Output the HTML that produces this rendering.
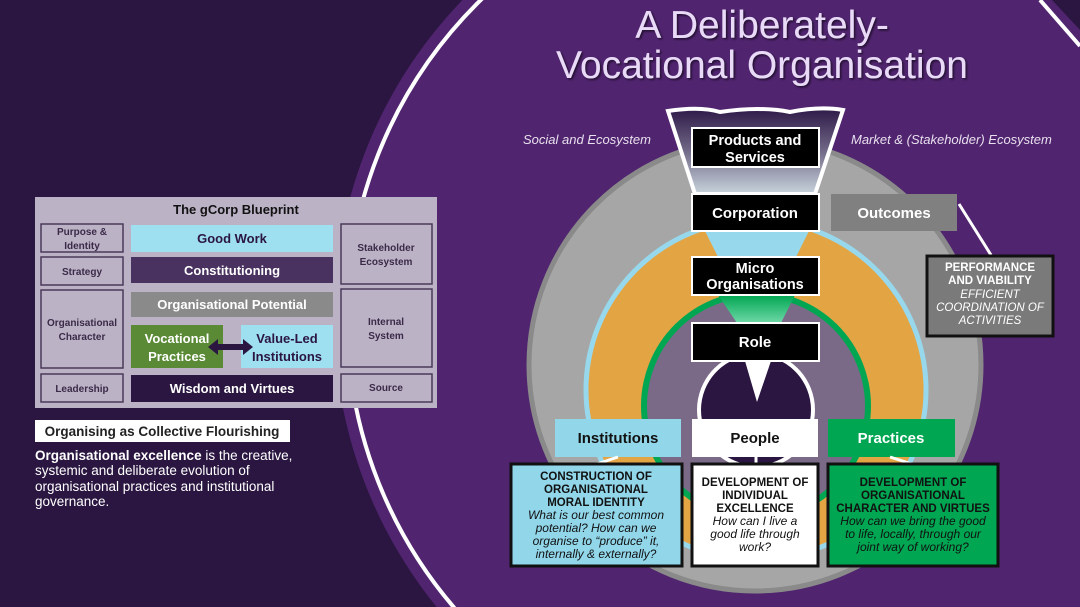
<!DOCTYPE html>
<html><head><meta charset="utf-8"><style>
html,body{margin:0;padding:0;background:#2a1640;width:1080px;height:607px;overflow:hidden;}
svg{display:block;font-family:"Liberation Sans",sans-serif;}
</style></head><body>
<svg width="1080" height="607" viewBox="0 0 1080 607" xmlns="http://www.w3.org/2000/svg">
<defs>
<linearGradient id="fg" x1="0" y1="0" x2="0" y2="1">
<stop offset="0" stop-color="#2e1a48"/><stop offset="0.45" stop-color="#6a6080"/><stop offset="1" stop-color="#c8d4dc"/>
</linearGradient>
<linearGradient id="gg" x1="0" y1="0" x2="0" y2="1">
<stop offset="0" stop-color="#00a651"/><stop offset="1" stop-color="#6fd8a8"/>
</linearGradient>
<filter id="sh"><feDropShadow dx="1.5" dy="1.5" stdDeviation="1" flood-color="#000" flood-opacity="0.6"/></filter>
</defs>
<rect width="1080" height="607" fill="#2a1640"/>
<circle cx="792" cy="318" r="458" fill="#50246f"/>
<circle cx="792" cy="318" r="445" fill="none" stroke="#fff" stroke-width="4"/>
<polygon points="1052,0 1080,0 1080,30" fill="#2a1640"/>
<line x1="1040" y1="0" x2="1080" y2="46" stroke="#fff" stroke-width="4"/>

<!-- title -->
<g fill="#e9dbf7" font-size="39" text-anchor="middle" filter="url(#sh)">
<text x="762" y="38">A Deliberately-</text>
<text x="762" y="78">Vocational Organisation</text>
</g>
<g fill="#e8e0ee" font-size="13" font-style="italic">
<text x="523" y="144">Social and  Ecosystem</text>
<text x="851" y="144">Market &amp; (Stakeholder) Ecosystem</text>
</g>

<!-- circles -->
<circle cx="755" cy="365" r="226" fill="#a6a6a6" stroke="#8a8a8a" stroke-width="5"/>
<circle cx="756" cy="390" r="170" fill="#e3a444" stroke="#97d8ec" stroke-width="5"/>
<circle cx="756" cy="406" r="112" fill="#7a6a88" stroke="#00a651" stroke-width="6"/>
<circle cx="756" cy="410" r="57" fill="#2a1640" stroke="#fff" stroke-width="4"/>

<!-- funnel -->
<path d="M668,111 Q700,106 720,112 Q760,106 790,112 Q820,106 843,110 L815,194 L695,194 Z" fill="url(#fg)" stroke="#fff" stroke-width="4"/>
<polygon points="705,231 809,231 796,257 718,257" fill="#97d8ec"/>
<polygon points="718,295 795,295 781,323 737,323" fill="url(#gg)"/>
<polygon points="745,361 771,361 757,402" fill="#fff"/>

<!-- center boxes -->
<g stroke="#fff" stroke-width="2" fill="#000">
<rect x="692" y="128" width="127" height="39"/>
<rect x="692" y="194" width="127" height="37"/>
<rect x="692" y="257" width="127" height="38"/>
<rect x="692" y="323" width="127" height="38"/>
</g>
<g fill="#fff" font-weight="bold" text-anchor="middle" font-size="14.5">
<text x="755" y="145">Products and</text>
<text x="755" y="162">Services</text>
<text x="755" y="218" font-size="15">Corporation</text>
<text x="755" y="273">Micro</text>
<text x="755" y="289">Organisations</text>
<text x="755" y="347" font-size="15">Role</text>
</g>

<!-- outcomes -->
<rect x="831" y="194" width="126" height="37" fill="#808080"/>
<text x="894" y="218" fill="#fff" font-weight="bold" font-size="15" text-anchor="middle">Outcomes</text>
<line x1="959" y1="204" x2="991" y2="255" stroke="#fff" stroke-width="3"/>
<rect x="927" y="256" width="126" height="80" fill="#7a7a7a" stroke="#111" stroke-width="3"/>
<g fill="#fff" font-size="11.5" text-anchor="middle">
<text x="990" y="271" font-weight="bold">PERFORMANCE</text>
<text x="990" y="284" font-weight="bold">AND VIABILITY</text>
<text x="990" y="298" font-style="italic">EFFICIENT</text>
<text x="990" y="311" font-style="italic">COORDINATION OF</text>
<text x="990" y="324" font-style="italic">ACTIVITIES</text>
</g>

<!-- mid row -->
<rect x="555" y="419" width="126" height="38" fill="#92d6ea"/>
<rect x="692" y="419" width="126" height="38" fill="#fff"/>
<rect x="828" y="419" width="127" height="38" fill="#00a651"/>
<g font-weight="bold" font-size="15" text-anchor="middle">
<text x="618" y="443" fill="#111">Institutions</text>
<text x="755" y="443" fill="#111">People</text>
<text x="891" y="443" fill="#fff">Practices</text>
</g>
<g stroke="#fff" stroke-width="3">
<line x1="618" y1="457" x2="597" y2="464"/>
<line x1="756" y1="457" x2="756" y2="464"/>
<line x1="890" y1="457" x2="912" y2="464"/>
</g>

<!-- bottom boxes -->
<rect x="511" y="464" width="171" height="102" fill="#92d6ea" stroke="#111" stroke-width="3"/>
<rect x="692" y="464" width="126" height="102" fill="#fff" stroke="#111" stroke-width="3"/>
<rect x="828" y="464" width="170" height="102" fill="#00a651" stroke="#111" stroke-width="3"/>
<g fill="#111" font-size="11.5" text-anchor="middle">
<g font-weight="bold">
<text x="596" y="480">CONSTRUCTION OF</text>
<text x="596" y="493">ORGANISATIONAL</text>
<text x="596" y="506">MORAL IDENTITY</text>
<text x="755" y="486">DEVELOPMENT OF</text>
<text x="755" y="499">INDIVIDUAL</text>
<text x="755" y="512">EXCELLENCE</text>
<text x="913" y="486">DEVELOPMENT OF</text>
<text x="913" y="499">ORGANISATIONAL</text>
<text x="913" y="512">CHARACTER AND VIRTUES</text>
</g>
<g font-style="italic" font-size="12">
<text x="596" y="519">What is our best common</text>
<text x="596" y="532">potential? How can we</text>
<text x="596" y="545">organise to “produce” it,</text>
<text x="596" y="558">internally &amp; externally?</text>
<text x="755" y="525">How can I live a</text>
<text x="755" y="538">good life through</text>
<text x="755" y="551">work?</text>
<text x="913" y="525">How can we bring the good</text>
<text x="913" y="538">to life, locally, through our</text>
<text x="913" y="551">joint way of working?</text>
</g>
</g>

<!-- left panel -->
<rect x="35" y="197" width="402" height="211" fill="#bcb2c6"/>
<text x="236" y="214" font-size="13" font-weight="bold" text-anchor="middle" fill="#111">The gCorp Blueprint</text>
<g fill="#bcb2c6" stroke="#4a3a5a" stroke-width="1.5">
<rect x="41" y="224" width="82" height="28"/>
<rect x="41" y="257" width="82" height="28"/>
<rect x="41" y="290" width="82" height="78"/>
<rect x="41" y="374" width="82" height="28"/>
<rect x="341" y="224" width="91" height="60"/>
<rect x="341" y="289" width="91" height="78"/>
<rect x="341" y="374" width="91" height="28"/>
</g>
<g font-size="10" font-weight="bold" fill="#3a2a48" text-anchor="middle">
<text x="82" y="235">Purpose &amp;</text>
<text x="82" y="249">Identity</text>
<text x="82" y="275">Strategy</text>
<text x="82" y="326">Organisational</text>
<text x="82" y="340">Character</text>
<text x="82" y="392">Leadership</text>
<text x="386" y="251">Stakeholder</text>
<text x="386" y="265">Ecosystem</text>
<text x="386" y="325">Internal</text>
<text x="386" y="339">System</text>
<text x="386" y="391">Source</text>
</g>
<rect x="131" y="225" width="202" height="27" fill="#9fe0f0"/>
<rect x="131" y="257" width="202" height="26" fill="#4a3260"/>
<rect x="131" y="292" width="202" height="25" fill="#8a8a8a"/>
<rect x="131" y="325" width="92" height="43" fill="#5a8a35"/>
<rect x="241" y="325" width="92" height="43" fill="#9fe0f0"/>
<rect x="131" y="375" width="202" height="27" fill="#2a1640"/>
<g font-size="13" font-weight="bold" text-anchor="middle">
<text x="232" y="243" fill="#2a1640">Good Work</text>
<text x="232" y="275" fill="#fff">Constitutioning</text>
<text x="232" y="309" fill="#fff">Organisational Potential</text>
<text x="177" y="343" fill="#fff">Vocational</text>
<text x="177" y="361" fill="#fff">Practices</text>
<text x="287" y="343" fill="#2a1640">Value-Led</text>
<text x="287" y="361" fill="#2a1640">Institutions</text>
<text x="232" y="393" fill="#fff">Wisdom and Virtues</text>
</g>
<polygon points="208,347 218,339 218,344 243,344 243,339 253,347 243,355 243,350 218,350 218,355" fill="#2a1640"/>

<rect x="35" y="420" width="255" height="22" fill="#fff"/>
<text x="162" y="436" font-size="13.5" font-weight="bold" text-anchor="middle" fill="#222">Organising as Collective Flourishing</text>
<g fill="#fff" font-size="13.5">
<text x="35" y="460"><tspan font-weight="bold">Organisational excellence</tspan> is the creative,</text>
<text x="35" y="475">systemic and deliberate evolution of</text>
<text x="35" y="491">organisational practices and institutional</text>
<text x="35" y="506">governance.</text>
</g>
</svg>
</body></html>
